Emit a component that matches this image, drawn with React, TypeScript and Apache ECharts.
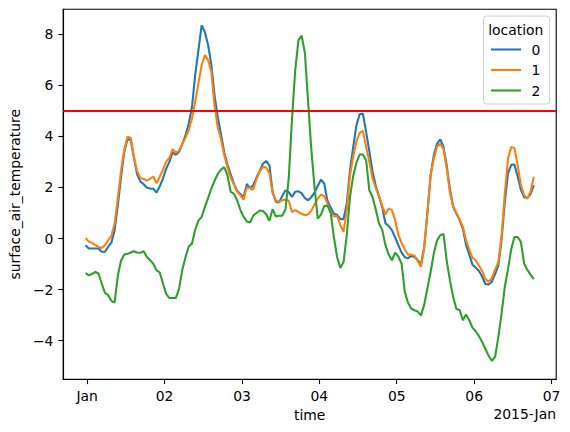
import React, { useEffect, useRef } from "react";
import * as echarts from "echarts";

const HOUR = 3600 * 1000;
// hourly samples; first sample sits just before Jan 1 00:00 in the picture
const START = Date.UTC(2014, 11, 31, 23, 30);

const LOCATIONS = ["0", "1", "2"];
const LEGEND_TITLE = "location";
const X_NAME = "time";
const Y_NAME = "surface_air_temperature";
const OFFSET_LABEL = "2015-Jan";

const LOC0 = [
  -0.26, -0.39, -0.39, -0.39, -0.39, -0.52, -0.52, -0.33, -0.16, 0.32,
  1.31, 2.42, 3.40, 3.90, 3.86, 3.16, 2.51, 2.23, 2.13, 2.00,
  1.96, 1.95, 1.80, 2.04, 2.35, 2.74, 3.01, 3.37, 3.28, 3.40,
  3.71, 4.05, 4.51, 5.16, 6.42, 7.38, 8.36, 8.08, 7.58, 6.80,
  5.60, 4.75, 4.08, 3.38, 2.90, 2.52, 2.14, 1.87, 1.74, 1.63,
  2.14, 1.97, 2.09, 2.39, 2.65, 2.93, 3.04, 2.87, 1.83, 1.44,
  1.41, 1.67, 1.89, 1.82, 1.63, 1.83, 1.85, 1.78, 1.58, 1.50,
  1.62, 1.80, 2.06, 2.31, 2.16, 1.48, 1.23, 0.97, 0.93, 0.76,
  0.76, 1.37, 2.68, 3.59, 4.44, 4.87, 4.90, 4.18, 3.41, 2.63,
  2.06, 1.65, 1.21, 0.60, 0.49, 0.33, 0.04, -0.26, -0.55, -0.73,
  -0.77, -0.68, -0.72, -0.84, -1.02, -0.37, 0.98, 2.48, 3.27, 3.72,
  3.88, 3.60, 2.85, 1.93, 1.23, 0.98, 0.72, 0.39, -0.26, -0.63,
  -1.03, -1.14, -1.27, -1.49, -1.78, -1.80, -1.69, -1.39, -1.06, -0.07,
  1.42, 2.55, 2.89, 2.90, 2.44, 1.91, 1.62, 1.58, 1.74, 2.09,
];

const LOC1 = [
  0.02, -0.12, -0.17, -0.26, -0.33, -0.37, -0.26, -0.07, 0.10, 0.59,
  1.58, 2.67, 3.50, 3.99, 3.95, 3.20, 2.64, 2.36, 2.33, 2.27,
  2.34, 2.43, 2.16, 2.42, 2.69, 3.01, 3.16, 3.50, 3.35, 3.45,
  3.71, 3.95, 4.25, 4.70, 5.38, 6.08, 6.80, 7.19, 6.99, 6.53,
  5.20, 4.35, 3.89, 3.27, 2.78, 2.38, 2.12, 1.83, 1.70, 1.52,
  2.01, 1.97, 1.91, 2.33, 2.63, 2.81, 2.78, 2.55, 1.79, 1.49,
  1.44, 1.50, 1.53, 1.48, 1.04, 1.11, 1.04, 0.97, 0.91, 0.95,
  1.08, 1.33, 1.57, 1.72, 1.67, 1.37, 1.03, 0.86, 0.89, 0.52,
  0.26, 1.11, 2.48, 3.21, 3.82, 4.14, 4.22, 3.59, 3.01, 2.35,
  1.97, 1.67, 1.28, 0.94, 1.18, 1.11, 0.72, 0.15, -0.17, -0.43,
  -0.63, -0.63, -0.67, -0.88, -1.10, -0.36, 1.04, 2.48, 3.14, 3.60,
  3.72, 3.50, 2.75, 1.78, 1.27, 1.01, 0.76, 0.46, -0.07, -0.43,
  -0.76, -0.85, -1.06, -1.28, -1.58, -1.70, -1.55, -1.22, -0.93, 0.09,
  1.75, 3.14, 3.59, 3.54, 2.87, 2.09, 1.70, 1.57, 1.83, 2.42,
];

const LOC2 = [
  -1.35, -1.44, -1.39, -1.31, -1.37, -1.76, -2.13, -2.22, -2.44, -2.51,
  -1.46, -0.86, -0.63, -0.60, -0.55, -0.50, -0.55, -0.56, -0.50, -0.72,
  -0.85, -0.99, -1.24, -1.33, -1.76, -2.17, -2.33, -2.33, -2.33, -1.96,
  -1.22, -0.72, -0.31, -0.20, 0.35, 0.70, 0.85, 1.23, 1.59, 1.96,
  2.26, 2.53, 2.70, 2.80, 2.48, 1.83, 1.76, 1.50, 1.12, 0.86,
  0.67, 0.63, 0.90, 1.00, 1.10, 1.08, 0.95, 0.70, 1.15, 0.86,
  0.89, 0.89, 1.15, 2.35, 4.66, 6.57, 7.76, 7.95, 7.28, 5.38,
  3.50, 2.02, 0.78, 0.94, 1.27, 1.29, 1.02, 0.06, -0.72, -1.15,
  -0.92, 0.13, 1.63, 2.46, 2.97, 3.29, 3.29, 3.07, 1.89, 1.63,
  1.13, 0.59, 0.34, -0.26, -0.63, -0.85, -0.55, -0.71, -0.98, -2.09,
  -2.52, -2.75, -2.81, -2.86, -3.01, -2.60, -1.96, -1.31, -0.59, -0.07,
  0.13, 0.18, -0.88, -1.64, -2.29, -2.76, -2.80, -3.20, -2.98, -3.20,
  -3.50, -3.63, -3.83, -4.05, -4.33, -4.59, -4.79, -4.63, -3.86, -2.95,
  -1.90, -1.20, -0.42, 0.06, 0.06, -0.13, -0.98, -1.23, -1.41, -1.59,
];

const SERIES_VALUES = [LOC0, LOC1, LOC2];
const COLORS = ["#1f77b4", "#ff7f0e", "#2ca02c"];
const THRESHOLD = 5;

const X_TICK_DATES = [
  "2015-01-01T00:00:00Z",
  "2015-01-02T00:00:00Z",
  "2015-01-03T00:00:00Z",
  "2015-01-04T00:00:00Z",
  "2015-01-05T00:00:00Z",
  "2015-01-06T00:00:00Z",
  "2015-01-07T00:00:00Z",
];
const X_TICK_LABELS = ["Jan", "02", "03", "04", "05", "06", "07"];
const Y_TICKS = [-4, -2, 0, 2, 4, 6, 8];
const Y_MIN = -5.51;
const Y_MAX = 8.98;

const FONT = "DejaVu Sans";
const FS = 13.9;
const LW = 2.08;

export default function App() {
  const ref = useRef<HTMLDivElement>(null);

  useEffect(() => {
    if (!ref.current) return;
    const chart = echarts.init(ref.current, undefined, { renderer: "svg" });
    const xTicks = X_TICK_DATES.map((d) => Date.parse(d));
    const n = LOC0.length;
    const end = START + (n - 1) * HOUR;
    const pad = (end - START) * 0.05;

    const series: any[] = SERIES_VALUES.map((vals, i) => ({
      name: LOCATIONS[i],
      type: "line",
      data: vals.map((v, k) => [START + k * HOUR, v]),
      showSymbol: false,
      symbol: "none",
      lineStyle: { color: COLORS[i], width: LW },
      itemStyle: { color: COLORS[i] },
      z: 2 + i,
    }));
    series[series.length - 1].markLine = {
      silent: true,
      symbol: ["none", "none"],
      label: { show: false },
      lineStyle: { color: "#ff0000", width: LW, type: "solid" },
      data: [{ yAxis: THRESHOLD }],
      animation: false,
    };

    const legendRows = LOCATIONS.map((_, i) => 49.5 + 20.5 * i);
    const textStyle = { fontFamily: FONT, fontSize: FS, fill: "#000" };

    chart.setOption({
      animation: false,
      textStyle: { fontFamily: FONT },
      grid: {
        left: 60.5,
        right: 13.8,
        top: 9.3,
        bottom: 52.8,
        show: true,
        borderColor: "#000",
        borderWidth: 1.1,
        backgroundColor: "transparent",
        containLabel: false,
      },
      xAxis: {
        type: "value",
        min: START - pad,
        max: end + pad,
        name: X_NAME,
        nameLocation: "middle",
        nameGap: 28,
        nameTextStyle: { fontFamily: FONT, fontSize: FS, color: "#000" },
        axisLine: { show: true, onZero: false, lineStyle: { color: "#000", width: 1.1 } },
        axisTick: {
          show: true,
          customValues: xTicks,
          length: 4.9,
          lineStyle: { color: "#000", width: 1.1 },
        },
        axisLabel: {
          customValues: xTicks,
          margin: 10,
          fontFamily: FONT,
          fontSize: FS,
          color: "#000",
          formatter: (val: number) => {
            const i = xTicks.findIndex((t) => Math.abs(t - val) < 1000);
            return i >= 0 ? X_TICK_LABELS[i] : "";
          },
        },
        splitLine: { show: false },
      },
      yAxis: {
        type: "value",
        min: Y_MIN,
        max: Y_MAX,
        name: Y_NAME,
        nameLocation: "middle",
        nameGap: 36,
        nameTextStyle: { fontFamily: FONT, fontSize: FS, color: "#000" },
        axisLine: { show: true, onZero: false, lineStyle: { color: "#000", width: 1.1 } },
        axisTick: {
          show: true,
          customValues: Y_TICKS,
          length: 4.9,
          lineStyle: { color: "#000", width: 1.1 },
        },
        axisLabel: {
          customValues: Y_TICKS,
          margin: 9.8,
          fontFamily: FONT,
          fontSize: FS,
          color: "#000",
          formatter: (v: number) => (v < 0 ? "\u2212" + Math.abs(v) : String(v)),
        },
        splitLine: { show: false },
      },
      series,
      graphic: [
        {
          type: "rect",
          shape: { x: 483.5, y: 16, width: 66, height: 88, r: 3 },
          style: { fill: "rgba(255,255,255,0.8)", stroke: "#cccccc", lineWidth: 1 },
          z: 100,
        },
        {
          type: "text",
          x: 515.8,
          y: 29.5,
          style: { ...textStyle, text: LEGEND_TITLE, align: "center", verticalAlign: "middle" },
          z: 101,
        },
        ...LOCATIONS.map((name, i) => ({
          type: "line",
          shape: { x1: 491, y1: legendRows[i], x2: 521, y2: legendRows[i] },
          style: { stroke: COLORS[i], lineWidth: LW },
          z: 101,
        })),
        ...LOCATIONS.map((name, i) => ({
          type: "text",
          x: 536,
          y: legendRows[i],
          style: { ...textStyle, text: name, align: "center", verticalAlign: "middle" },
          z: 101,
        })),
        {
          type: "text",
          x: 556,
          y: 413.5,
          style: { ...textStyle, text: OFFSET_LABEL, align: "right", verticalAlign: "middle" },
          z: 101,
        },
      ],
    });

    return () => chart.dispose();
  }, []);

  return (
    <div
      ref={ref}
      style={{ position: "absolute", left: 0, top: 0, width: 570, height: 432, background: "#fff" }}
    />
  );
}
